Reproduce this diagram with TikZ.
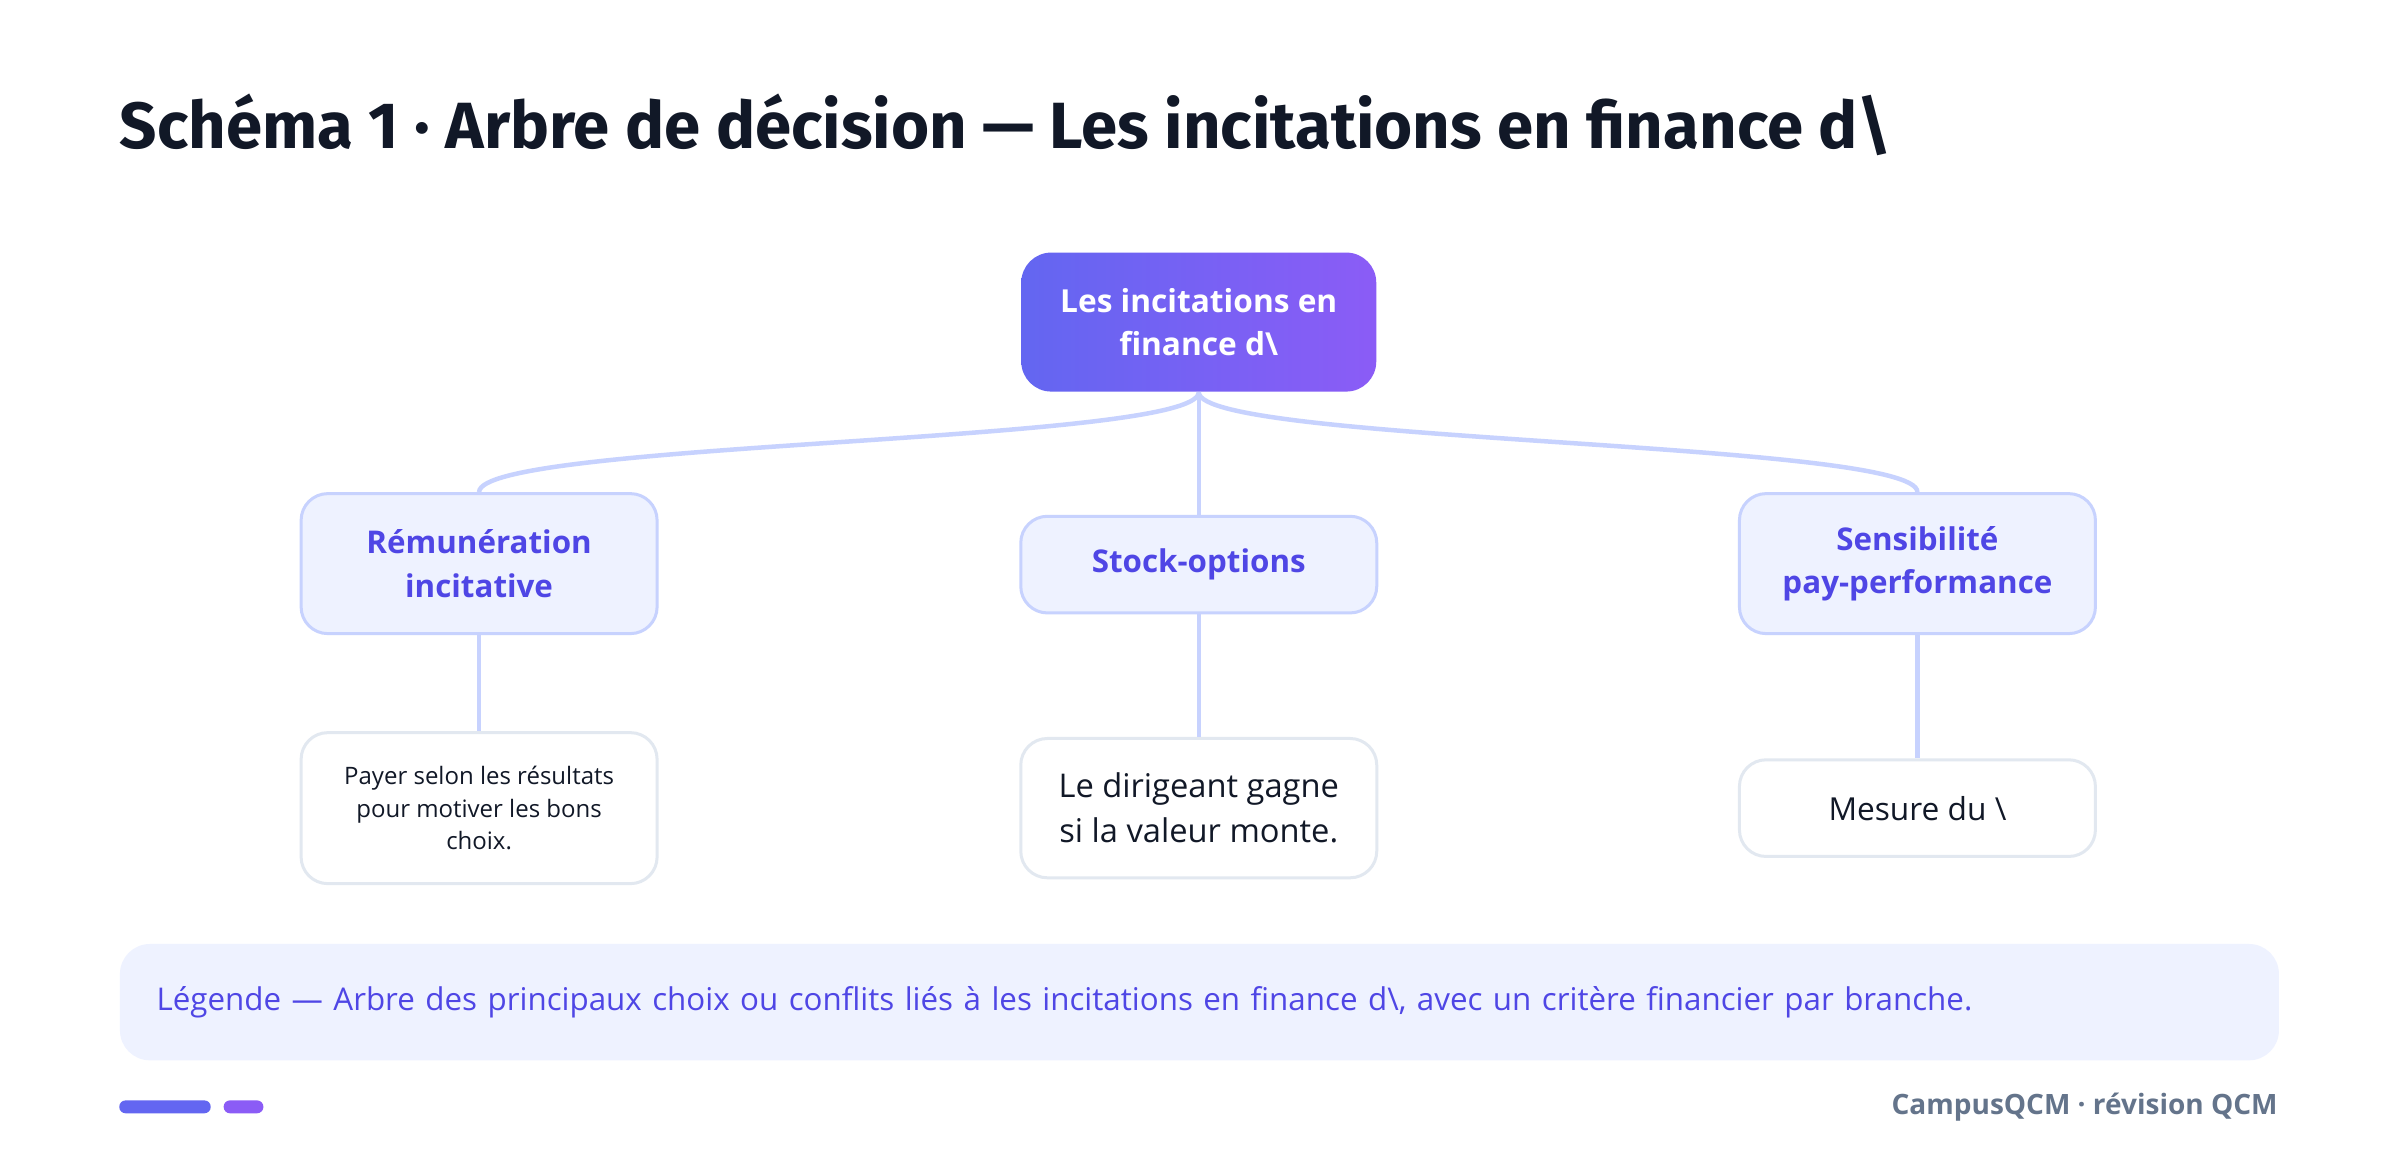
\documentclass[tikz,border=0pt]{standalone}
\usepackage{fontspec}
\setmainfont{Open Sans}
\newfontfamily\titlefont{Fira Sans}
\usetikzlibrary{positioning}

\definecolor{ink}{HTML}{111827}
\definecolor{indigo}{HTML}{6366F1}
\definecolor{violet}{HTML}{8B5CF6}
\definecolor{branchbg}{HTML}{EEF2FF}
\definecolor{branchline}{HTML}{C7D2FE}
\definecolor{branchtext}{HTML}{4F46E5}
\definecolor{leafline}{HTML}{E2E8F0}
\definecolor{footgray}{HTML}{64748B}

\tikzset{
    rootbox/.style={rounded corners=9pt, left color=indigo, right color=violet,
        text=white, font=\fontsize{9.5}{13}\selectfont\bfseries, align=center,
        minimum width=106.5pt, minimum height=41.7pt, inner sep=2pt},
    branchbox/.style={rounded corners=8pt, fill=branchbg, draw=branchline, line width=0.9pt,
        text=branchtext, font=\fontsize{9.4}{13}\selectfont\bfseries, align=center,
        minimum width=106.8pt, inner sep=2pt},
    leafbox/.style={rounded corners=8pt, fill=white, draw=leafline, line width=0.9pt,
        text=ink, align=center, minimum width=106.8pt, inner sep=2pt},
    link/.style={draw=branchline, line width=1.35pt},
}

\begin{document}
\begin{tikzpicture}[x=0.2982pt,y=-0.2982pt]
    \useasboundingbox (0,0) rectangle (2414.5,1176.1);
    \fill[white] (0,0) rectangle (2414.5,1176.1);

    % title
    \node[anchor=base west, inner sep=0pt, text=ink, font=\fontsize{19.6}{24}\titlefont\bfseries]
        (title) at (120,149) {Schéma 1 · Arbre de décision — Les incitations en finance d\textbackslash};

    % root
    \node[rootbox] (root) at (1206,324) {Les incitations en\\finance d\textbackslash};

    % branches
    \node[branchbox, minimum height=42pt] (remu) at (482,567) {Rémunération\\incitative};
    \node[branchbox, minimum height=29pt] (stock) at (1206,568) {Stock-options};
    \node[branchbox, minimum height=42pt] (sens) at (1929,567) {Sensibilité\\pay-performance};

    % leaves
    \node[leafbox, minimum height=45.3pt, font=\fontsize{7.2}{9.7}\selectfont] (payer) at (482,813)
        {Payer selon les résultats\\pour motiver les bons\\choix.};
    \node[leafbox, minimum height=41.8pt, font=\fontsize{9.8}{13.4}\selectfont] (dirig) at (1206,813)
        {Le dirigeant gagne\\si la valeur monte.};
    \node[leafbox, minimum height=29pt, font=\fontsize{9.5}{13}\selectfont] (mesure) at (1929,813)
        {Mesure du \textbackslash};

    % links
    \draw[link] (root.south) .. controls +(0,51.5) and +(0,-51.5) .. (remu.north);
    \draw[link] (root.south) -- (stock.north);
    \draw[link] (root.south) .. controls +(0,51.5) and +(0,-51.5) .. (sens.north);
    \draw[link] (remu.south) -- (payer.north);
    \draw[link] (stock.south) -- (dirig.north);
    \draw[link] (sens.south) -- (mesure.north);

    % legend
    \node[anchor=north west, fill=branchbg, rounded corners=9pt, minimum width=647.7pt,
        minimum height=34.9pt, text width=625.7pt, inner xsep=11pt, align=left,
        text=branchtext, font=\fontsize{9.4}{12}\selectfont] (legend) at (120,949)
        {Légende — Arbre des principaux choix ou conflits liés à les incitations en finance d\textbackslash, avec un critère financier par branche.};

    % footer
    \fill[indigo, rounded corners=1.9pt] (120,1107) rectangle (212,1120);
    \fill[violet, rounded corners=1.9pt] (225,1107) rectangle (265,1120);
    \node[anchor=east, inner sep=0pt, text=footgray, font=\fontsize{8.4}{11}\selectfont\bfseries]
        (footer) at (2292,1114) {CampusQCM · révision QCM};
\end{tikzpicture}
\end{document}
